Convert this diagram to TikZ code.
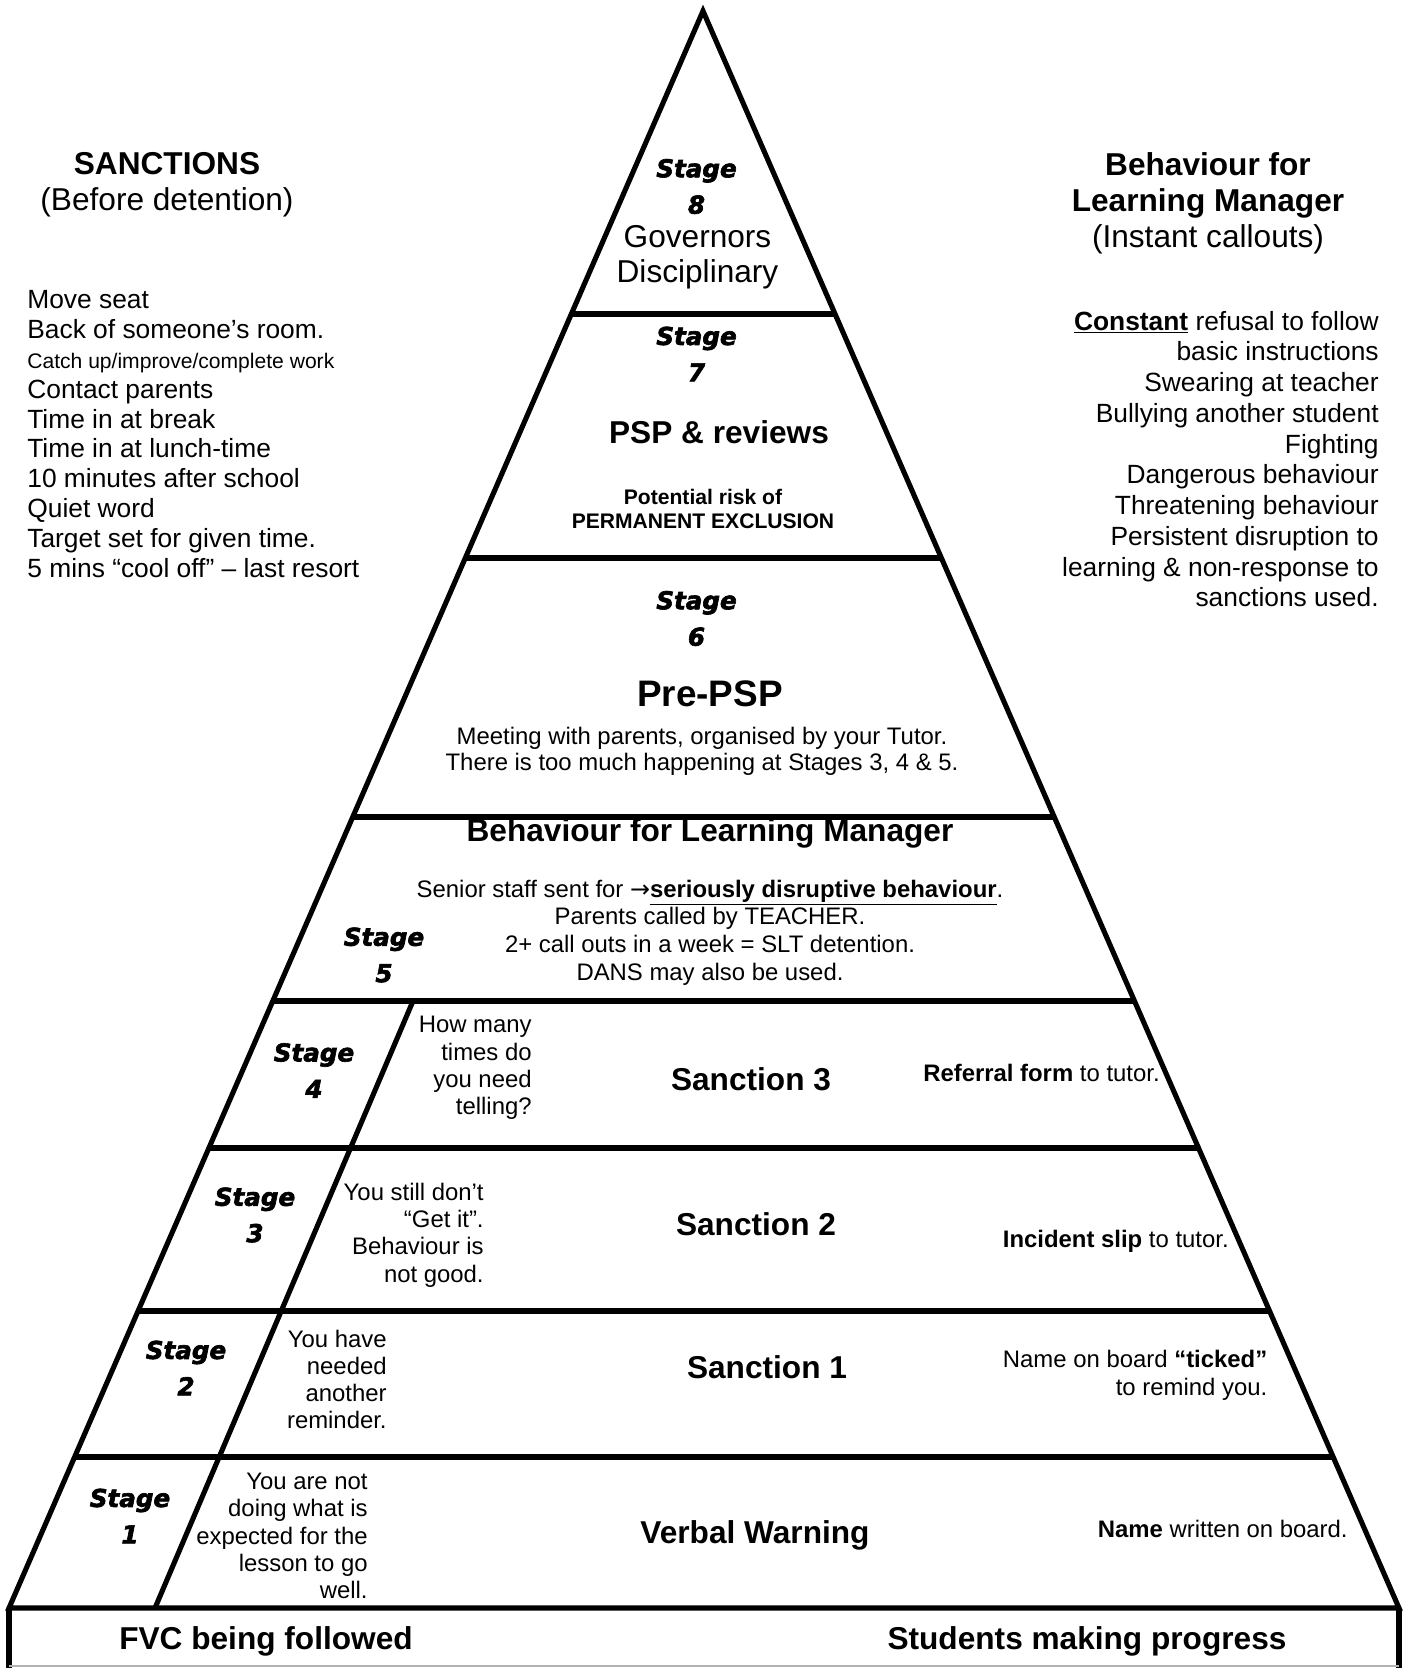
\documentclass[tikz,border=0pt]{standalone}
\usepackage{fontspec}
\setmainfont{Liberation Sans}
\newfontfamily\stagefont[FakeBold=2.5]{DejaVu Sans Bold Oblique}
\newfontfamily\djvfont{DejaVu Sans}
\usetikzlibrary{calc}

\newcommand{\fs}[2]{\fontsize{#1}{#2}\selectfont}

\begin{document}
\begin{tikzpicture}[x=0.02cm,y=-0.02cm,
  every node/.style={inner sep=0pt},
  frame/.style={line width=2.9pt},
  stagelbl/.style={align=center,font=\stagefont\fs{14}{20.7}},
  head/.style={align=center,font=\fs{18}{20.4}},
  title/.style={font=\bfseries\fs{18}{20.4}},
  body/.style={align=center,font=\fs{13.6}{15.6}},
  note/.style={align=right,anchor=east,font=\fs{13.6}{15.5}}]
\useasboundingbox (0,0) rectangle (1408,1668);
% pyramid
\coordinate (top) at (703,11);
\coordinate (bl) at (9,1608);
\coordinate (br) at (1399,1608);
\coordinate (fbl) at (9,1668);
\coordinate (fbr) at (1399,1668);
\draw[frame] (top) -- (bl) -- (br) -- cycle;
\foreach \yy in {314,558,817,1001,1148,1311,1457}
  \draw[frame] ($(top)!{(\yy-11)/1597}!(bl)$) -- ($(top)!{(\yy-11)/1597}!(br)$);
\coordinate (d1) at (413,1001);
\coordinate (d2) at (155,1608);
\draw[frame] (d1) -- (d2);
% base box
\draw[frame] (bl) -- (fbl);
\draw[frame] (br) -- (fbr);
\draw[gray!60,line width=0.8pt] ($(fbl)+(0,-2)$) -- ($(fbr)+(0,-2)$);

% side columns
\node[head] (sanchead) at (167,184.5) {\textbf{SANCTIONS}\\(Before detention)};
\node[align=left,anchor=west,font=\fs{15}{17}] (sanclist) at (27,434) {Move seat\\Back of someone’s room.\\{\fs{12}{17}Catch up/improve/complete work}\\Contact parents\\Time in at break\\Time in at lunch-time\\10 minutes after school\\Quiet word\\Target set for given time.\\5 mins “cool off” – last resort};
\node[head] (blmhead) at (1208,203) {\textbf{Behaviour for}\\\textbf{Learning Manager}\\(Instant callouts)};
\node[align=right,anchor=east,font=\fs{15}{17.5}] (blmlist) at (1379,459) {\underline{\textbf{Constant}} refusal to follow\\basic instructions\\Swearing at teacher\\Bullying another student\\Fighting\\Dangerous behaviour\\Threatening behaviour\\Persistent disruption to\\learning \& non-response to\\sanctions used.};

% stage labels
\node[stagelbl] (st8) at (696.5,186.5) {Stage\\8};
\node[stagelbl] (st7) at (696.5,354) {Stage\\7};
\node[stagelbl] (st6) at (696.5,618.5) {Stage\\6};
\node[stagelbl] (st5) at (384,955) {Stage\\5};
\node[stagelbl] (st4) at (314,1070.5) {Stage\\4};
\node[stagelbl] (st3) at (255,1215) {Stage\\3};
\node[stagelbl] (st2) at (186,1368) {Stage\\2};
\node[stagelbl] (st1) at (130,1516) {Stage\\1};

% stage 8 to 5
\node[align=center,font=\fs{18}{19.8}] (gov) at (697.5,257.5) {Governors\\Disciplinary};
\node[title] (psp) at (719,432) {PSP \& reviews};
\node[align=center,font=\bfseries\fs{12}{13.9}] (risk) at (703,509) {Potential risk of\\PERMANENT EXCLUSION};
\node[font=\bfseries\fs{21}{24}] (prepsp) at (710,694) {Pre-PSP};
\node[body,font=\fs{13.6}{15.1}] (meet) at (702,751.5) {Meeting with parents, organised by your Tutor.\\There is too much happening at Stages 3, 4 \& 5.};
\node[title] (blm) at (710,833) {Behaviour for Learning Manager};
\node[body,font=\fs{13.6}{15.7}] (senior) at (710,932.5) {Senior staff sent for {\djvfont →}\underline{\textbf{seriously disruptive behaviour}}.\\Parents called by TEACHER.\\2+ call outs in a week = SLT detention.\\DANS may also be used.};

% stage 4 to 1
\node[note] (why4) at (532,1068) {How many\\times do\\you need\\telling?};
\node[title] (sanc3) at (751,1079) {Sanction 3};
\node[note] (act4) at (1160,1073) {\textbf{Referral form} to tutor.};
\node[note] (why3) at (484,1235) {You still don’t\\“Get it”.\\Behaviour is\\not good.};
\node[title] (sanc2) at (756,1224) {Sanction 2};
\node[note] (act3) at (1229,1241) {\textbf{Incident slip} to tutor.};
\node[note] (why2) at (387,1379.5) {You have\\needed\\another\\reminder.};
\node[title] (sanc1) at (767,1367.5) {Sanction 1};
\node[note,font=\fs{13.6}{15.9}] (act2) at (1267.6,1375) {Name on board \textbf{“ticked”}\\to remind you.};
\node[note] (why1) at (368,1536) {You are not\\doing what is\\expected for the\\lesson to go\\well.};
\node[title] (verbal) at (755,1535.5) {Verbal Warning};
\node[note] (act1) at (1348,1529) {\textbf{Name} written on board.};

% base
\node[title] (fvc) at (266,1641) {FVC being followed};
\node[title] (progress) at (1087,1641) {Students making progress};
\end{tikzpicture}
\end{document}
